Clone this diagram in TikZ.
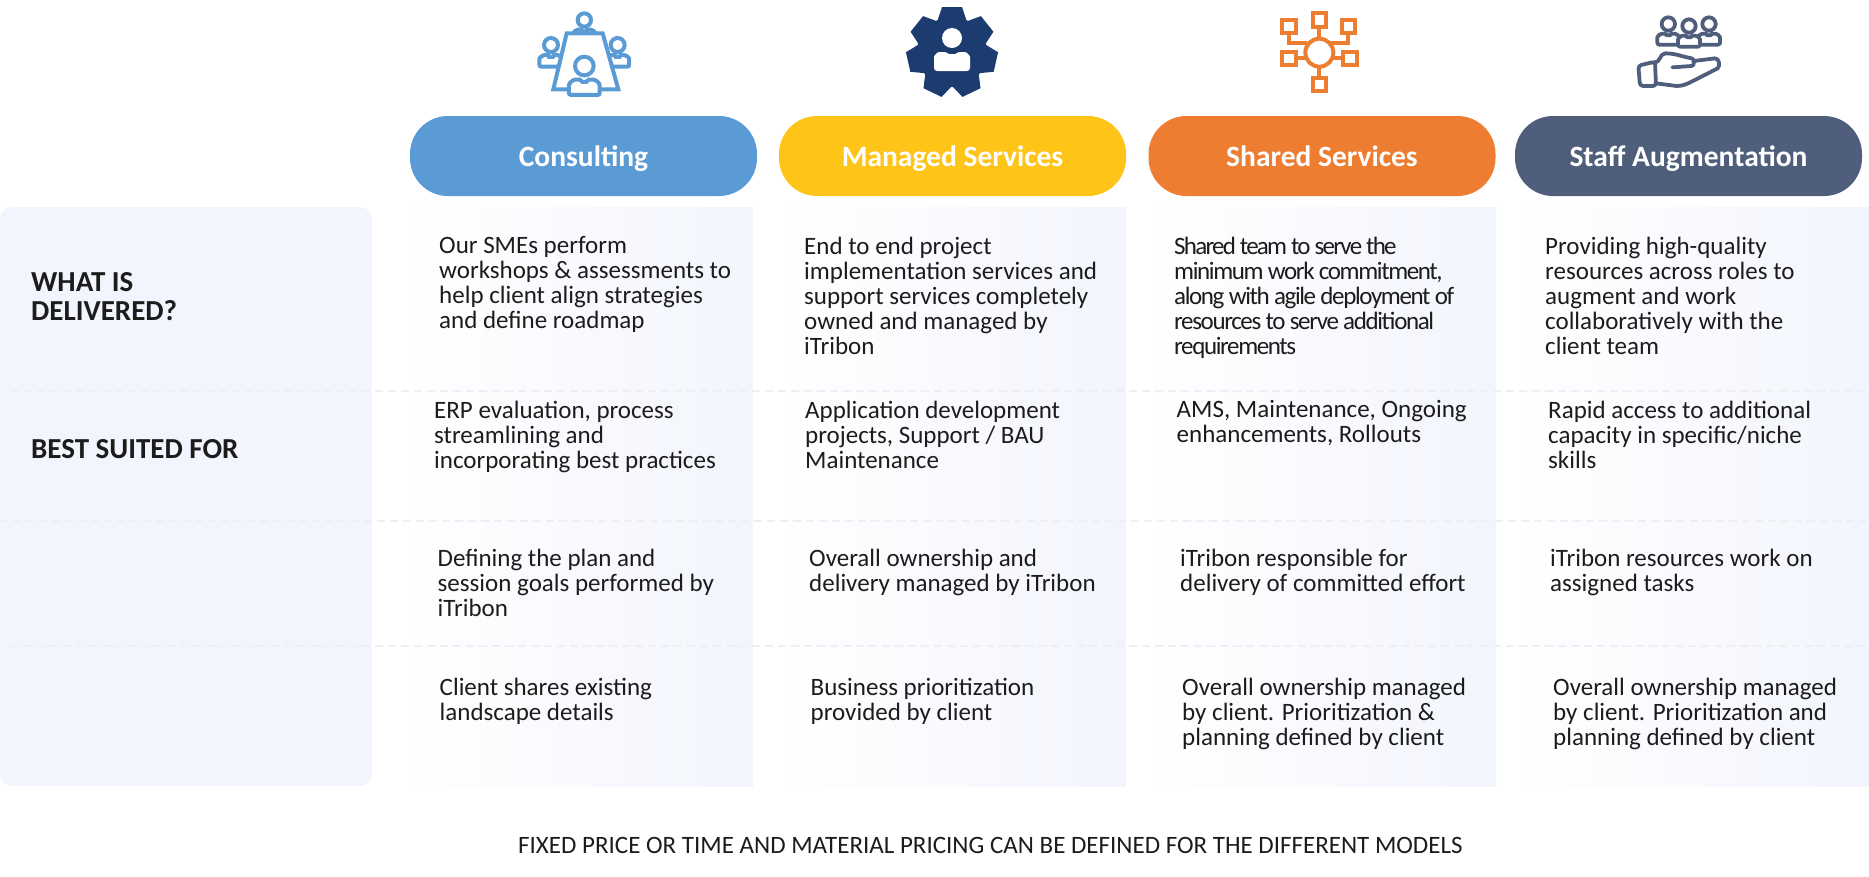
\documentclass[tikz,border=0pt]{standalone}
\usepackage{fontspec}
\setmainfont{Carlito}
\definecolor{panel}{HTML}{F2F5FD}
\definecolor{panelmid}{HTML}{F6F8FD}
\definecolor{rule}{HTML}{EDEFF2}
\definecolor{ink}{HTML}{1C1C1C}
\definecolor{bluey}{HTML}{5B9BD5}
\definecolor{yellowy}{HTML}{FFC418}
\definecolor{orangey}{HTML}{ED7D31}
\definecolor{slatey}{HTML}{4F5F7B}
\definecolor{gearblue}{HTML}{1C3B6E}
\newcommand{\persona}[3]{
  \draw[fill=white] (#1, #2) circle (#3);
  \draw[fill=white, rounded corners=2pt] ({#1-1.65*#3}, {#2+3.1*#3})
  -- ({#1-1.65*#3}, {#2+2.3*#3}) to[out=90, in=180] ({#1-0.7*#3}, {#2+1.45*#3})
  to[out=0, in=180] (#1, {#2+1.7*#3}) to[out=0, in=180] ({#1+0.7*#3}, {#2+1.45*#3})
  to[out=0, in=90] ({#1+1.65*#3}, {#2+2.3*#3}) -- ({#1+1.65*#3}, {#2+3.1*#3}) -- cycle;
}
\tikzset{
  pill/.style={minimum width=347pt, minimum height=80pt, rounded corners=38pt,
    inner sep=0pt, text=white, text height=24pt, text depth=4pt,
    font=\fontsize{29.5}{30}\selectfont\bfseries},
  cell/.style={anchor=north west, inner sep=0pt, align=left, text=ink,
    font=\fontsize{25}{25}\selectfont, execute at begin node=\strut},
  tightcell/.style={cell, font=\fontsize{25}{25}\selectfont\addfontfeature{LetterSpace=-5.5}},
  rowhead/.style={anchor=north west, inner sep=0pt, align=left, text=ink,
    font=\fontsize{29}{29}\selectfont\bfseries, execute at begin node=\strut},
  fade/.style={left color=white, middle color=panelmid, right color=panel, draw=none},
  rowline/.style={rule, line width=1.5pt, dash pattern=on 8pt off 5pt},
}

\begin{document}
\begin{tikzpicture}[x=1pt, y=-1pt]

  \useasboundingbox (0, 0) rectangle (1869, 876);

  \fill[panel, rounded corners=12pt] (0, 207) rectangle (372, 786);
  \shade[fade] (395, 207) rectangle (753, 786);
  \shade[fade] (770, 207) rectangle (1126, 786);
  \shade[fade] (1138, 207) rectangle (1496, 786);
  \shade[fade] (1508, 207) rectangle (1869, 786);

  \draw[rowline] (11, 391) -- (1869, 391);
  \draw[rowline] (0, 521) -- (1869, 521);
  \draw[rowline] (11, 646) -- (1869, 646);

  \node[pill, fill=bluey] (consulting) at (583.5, 156) {Consulting};
  \node[pill, fill=yellowy] (managed) at (952.5, 156) {Managed Services};
  \node[pill, fill=orangey] (shared) at (1322, 156) {Shared Services};
  \node[pill, fill=slatey] (staff) at (1688.5, 156) {Staff Augmentation};

  % consulting icon
  \begin{scope}[shift={(520, 0)}, scale=0.3333, bluey, line width=4pt]
    \persona{93}{135}{21}
    \persona{293}{135}{21}
    \persona{193}{60}{20}
    \draw[fill=white, line join=miter] (140, 100) -- (248, 100) -- (295, 268) -- (100, 268) -- cycle;
    \persona{193}{198}{28}
  \end{scope}

  % managed icon
  \fill[gearblue] (952, 52) circle (35);
  \foreach \ang in {90, 141.43, 192.86, 244.29, 295.71, 347.14, 38.57}
    \fill[gearblue, shift={(952, 52)}, rotate=\ang] (30, -15) -- (45, -10) -- (45, 10) -- (30, 15) -- cycle;
  \fill[white] (952, 38) circle (10);
  \fill[white, rounded corners=3pt] (934, 71) -- (934, 60)
  to[out=90, in=180] (942, 52) to[out=0, in=180] (952, 54) to[out=0, in=180] (962, 52)
  to[out=0, in=90] (970, 60) -- (970, 71) -- cycle;

  % shared icon
  \begin{scope}[shift={(1260, 0)}, scale=0.3333, orangey, line width=4pt]
    \draw (178, 158) circle (42);
    \foreach \sqx/\sqy in {178/60, 87/80, 265/80, 87/175, 270/175, 178/253}
      \draw (\sqx-20, \sqy-20) rectangle (\sqx+20, \sqy+20);
    \draw (178, 80) -- (178, 116);
    \draw (87, 100) -- (87, 130) -- (142, 130);
    \draw (265, 100) -- (265, 130) -- (214, 130);
    \draw (107, 175) -- (140, 175);
    \draw (250, 175) -- (217, 175);
    \draw (178, 200) -- (178, 233);
  \end{scope}

  % staff icon
  \begin{scope}[shift={(1620, 0)}, scale=0.3333, slatey, line width=3.8pt, line join=round, line cap=round]
    \persona{145}{72}{20}
    \persona{267}{72}{20}
    \persona{207}{78}{20}
    \draw[rounded corners=3pt] (55, 197) -- (105, 185) -- (108, 258) -- (60, 258) -- cycle;
    \draw (105, 185) to[out=-40, in=180] (135, 160) to[out=0, in=170] (215, 175)
    to[out=-10, in=0] (215, 198) -- (157, 202);
    \draw (222, 183) -- (285, 175) to[out=0, in=45] (293, 205) -- (215, 245)
    to[out=-155, in=0] (170, 258) -- (108, 250);
  \end{scope}

  \node[rowhead] (what) at (31, 272) {WHAT IS\\DELIVERED?};
  \node[rowhead] (best) at (31, 438) {BEST SUITED FOR};

  \node[cell] (c1a) at (439, 236.5) {Our SMEs perform\\workshops \& assessments to\\help client align strategies\\and define roadmap};
  \node[cell] (c2a) at (804, 236.5) {End to end project\\implementation services and\\support services completely\\owned and managed by\\iTribon};
  \node[tightcell] (c3a) at (1174, 236.5) {\addfontfeature{LetterSpace=-7}Shared team to serve the\\minimum work commitment,\\along with agile deployment of\\resources to serve additional\\requirements};
  \node[cell] (c4a) at (1545, 236.5) {Providing high-quality\\resources across roles to\\augment and work\\collaboratively with the\\client team};

  \node[cell] (c1b) at (434, 400.5) {ERP evaluation, process\\streamlining and\\incorporating best practices};
  \node[cell] (c2b) at (805, 400.5) {Application development\\projects, Support / BAU\\Maintenance};
  \node[cell] (c3b) at (1176.5, 400.5) {AMS, Maintenance, Ongoing\\enhancements, Rollouts};
  \node[cell] (c4b) at (1548, 400.5) {Rapid access to additional\\capacity in specific/niche\\skills};

  \node[cell] (c1c) at (437.5, 549) {Defining the plan and\\session goals performed by\\iTribon};
  \node[cell] (c2c) at (809, 549) {Overall ownership and\\delivery managed by iTribon};
  \node[cell] (c3c) at (1180, 549) {iTribon responsible for\\delivery of committed effort};
  \node[cell] (c4c) at (1550, 549) {iTribon resources work on\\assigned tasks};

  \node[cell] (c1d) at (439.5, 678) {Client shares existing\\landscape details};
  \node[cell] (c2d) at (810.5, 678) {Business prioritization\\provided by client};
  \node[cell] (c3d) at (1182, 678) {Overall ownership managed\\by client. Prioritization \&\\planning defined by client};
  \node[cell] (c4d) at (1553, 678) {Overall ownership managed\\by client. Prioritization and\\planning defined by client};

  \node[cell] (foot) at (518, 836) {FIXED PRICE OR TIME AND MATERIAL PRICING CAN BE DEFINED FOR THE DIFFERENT MODELS};

\end{tikzpicture}
\end{document}
